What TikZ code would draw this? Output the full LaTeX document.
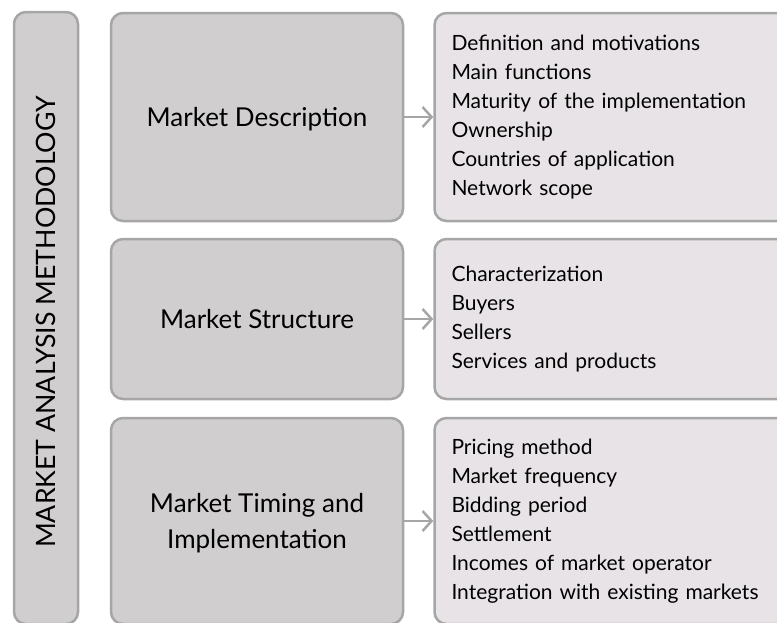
\documentclass[tikz,border=0pt]{standalone}
\usepackage{fontspec}
\setmainfont{Lato}
\usetikzlibrary{arrows.meta}
\definecolor{boxgray}{HTML}{D0CECF}
\definecolor{listgray}{HTML}{E7E3E6}
\definecolor{edgegray}{HTML}{A6A6A6}
\begin{document}
\begin{tikzpicture}[x=1pt, y=-1pt]

\tikzstyle{bar}=[rectangle, rounded corners=12pt, draw=edgegray, line width=2.5pt, fill=boxgray, minimum width=64pt, minimum height=612pt]
\tikzstyle{topic}=[rectangle, rounded corners=12pt, draw=edgegray, line width=2.5pt, fill=boxgray, minimum width=292pt, align=center, text depth=0pt, font=\fontsize{26}{36}\selectfont]
\tikzstyle{items}=[rectangle, rounded corners=12pt, draw=edgegray, line width=2.5pt, fill=listgray, text width=331pt, inner xsep=17pt, align=left, font=\fontsize{21}{29}\selectfont]
\tikzstyle{arrow}=[-{Straight Barb[length=9pt, width=20pt]}, draw=edgegray, line width=2.5pt]

\clip (0,0) rectangle (777,622);
\useasboundingbox (0,0) rectangle (777,622);

\node (L) [bar] at (46,318) {};
\node (LT) [rotate=90, font=\fontsize{26.7}{30}\selectfont] at (46,322) {MARKET ANALYSIS METHODOLOGY};

\node (MD) [topic, minimum height=208pt] at (257,117) {Market Description};
\node (MS) [topic, minimum height=160pt] at (257,319) {Market Structure};
\node (MT) [topic, minimum height=206pt] at (257,521) {Market Timing and\\ Implementation};

\node (MDL) [items, minimum height=208pt] at (617,117) {Definition and motivations\\
                                                     Main functions\\
                                                     Maturity of the implementation\\
                                                     Ownership\\
                                                     Countries of application\\
                                                     Network scope};
\node (MSL) [items, minimum height=160pt] at (617,319) {Characterization\\
                                                     Buyers\\
                                                     Sellers\\
                                                     Services and products};
\node (MTL) [items, minimum height=206pt] at (617,521) {Pricing method\\
                                                     Market frequency\\
                                                     Bidding period\\
                                                     Settlement\\
                                                     Incomes of market operator\\
                                                     Integration with existing markets};

\draw [arrow] (MD) -- (MDL);
\draw [arrow] (MS) -- (MSL);
\draw [arrow] (MT) -- (MTL);

\end{tikzpicture}
\end{document}
